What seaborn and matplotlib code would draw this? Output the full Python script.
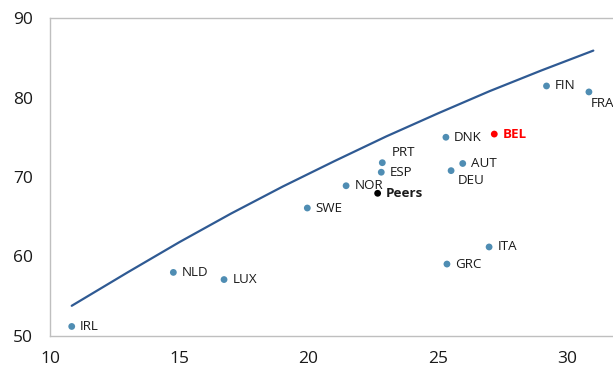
import matplotlib
matplotlib.use("Agg")
import matplotlib.pyplot as plt
import seaborn as sns
import pandas as pd

# Country observations
countries = ["IRL", "NLD", "LUX", "SWE", "NOR", "Peers", "ESP", "PRT",
             "DNK", "BEL", "AUT", "DEU", "GRC", "ITA", "FIN", "FRA"]
x_vals = [10.84, 14.77, 16.73, 19.95, 21.45, 22.67, 22.81, 22.85,
          25.31, 27.18, 25.96, 25.51, 25.35, 26.98, 29.20, 30.84]
y_vals = [51.2, 58.0, 57.1, 66.1, 68.9, 67.95, 70.6, 71.8,
          75.0, 75.4, 71.7, 70.8, 59.05, 61.2, 81.45, 80.7]

# Frontier curve
curve_x = [10.84, 13, 15, 17, 19, 21, 23, 25, 27, 29, 31.01]
curve_y = [53.8, 58.0, 61.8, 65.4, 68.8, 72.0, 75.1, 78.0, 80.8, 83.4, 85.9]

x_ticks = [10, 15, 20, 25, 30]
y_ticks = [50, 60, 70, 80, 90]

sns.set_theme(style="white")
plt.rcParams["font.family"] = ["Open Sans", "DejaVu Sans"]

df = pd.DataFrame({"country": countries, "x": x_vals, "y": y_vals})
df["group"] = ["BEL" if c == "BEL" else ("Peers" if c == "Peers" else "other")
               for c in countries]
curve = pd.DataFrame({"x": curve_x, "y": curve_y})

fig = plt.figure(figsize=(6.13, 3.73), dpi=100)
ax = fig.add_axes([50 / 613, 37 / 373, 646.5 / 613, 318 / 373])

sns.lineplot(data=curve, x="x", y="y", ax=ax, color="#2F5A93", linewidth=1.6,
             sort=False)
palette = {"other": "#4F8DB3", "BEL": "#FF0000", "Peers": "#000000"}
sns.scatterplot(data=df, x="x", y="y", hue="group", palette=palette, ax=ax,
                s=24, edgecolor="none", legend=False, zorder=3)

# label offsets in points
offsets = {"PRT": (7, 7), "DEU": (5, -7), "FRA": (1, -8)}
for c, xv, yv in zip(countries, x_vals, y_vals):
    dx, dy = offsets.get(c, (6, 0))
    color = "#FF0000" if c == "BEL" else "#1a1a1a"
    weight = "bold" if c in ("BEL", "Peers") else "normal"
    ax.annotate(c, (xv, yv), xytext=(dx, dy), textcoords="offset points",
                ha="left", va="center", fontsize=9.6, color=color,
                fontweight=weight)

ax.set_xlim(10, 35)
ax.set_ylim(50, 90)
ax.set_xticks(x_ticks)
ax.set_yticks(y_ticks)
ax.set_xlabel("")
ax.set_ylabel("")
for sp in ax.spines.values():
    sp.set_color("#BFBFBF")
    sp.set_linewidth(1.0)
ax.tick_params(axis="both", direction="in", length=5, width=1,
               color="#BFBFBF", labelsize=12.5, labelcolor="#1a1a1a")
ax.tick_params(axis="x", pad=11)
ax.tick_params(axis="y", pad=12)

fig.savefig("out.png", dpi=100)
